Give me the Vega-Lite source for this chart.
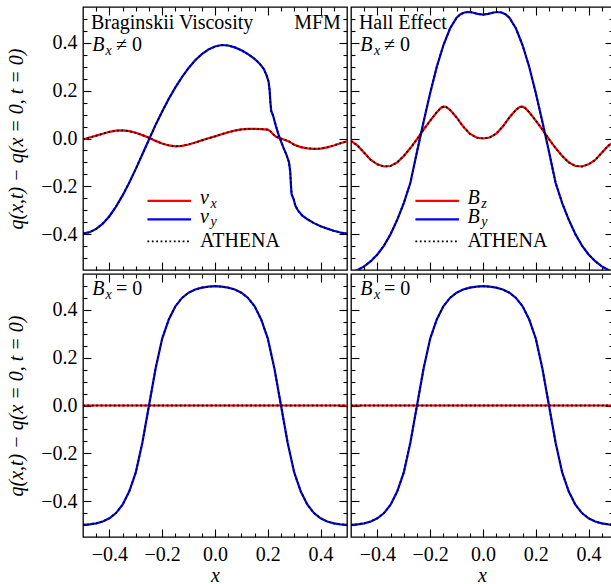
{
"$schema": "https://vega.github.io/schema/vega-lite/v6.json",
"padding": {"left": 6, "top": 5, "right": 0, "bottom": 0},
"background": "white",
"datasets": {
"curves": [
{"p":"A","s":"vx","x":-0.5,"y":-0.004},{"p":"A","s":"vx","x":-0.475,"y":0.004},{"p":"A","s":"vx","x":-0.45,"y":0.012},{"p":"A","s":"vx","x":-0.425,"y":0.02},{"p":"A","s":"vx","x":-0.4,"y":0.028},{"p":"A","s":"vx","x":-0.375,"y":0.033},{"p":"A","s":"vx","x":-0.35,"y":0.034},{"p":"A","s":"vx","x":-0.325,"y":0.031},{"p":"A","s":"vx","x":-0.3,"y":0.024},{"p":"A","s":"vx","x":-0.275,"y":0.014},{"p":"A","s":"vx","x":-0.25,"y":0.003},{"p":"A","s":"vx","x":-0.225,"y":-0.01},{"p":"A","s":"vx","x":-0.2,"y":-0.021},{"p":"A","s":"vx","x":-0.175,"y":-0.029},{"p":"A","s":"vx","x":-0.15,"y":-0.033},{"p":"A","s":"vx","x":-0.125,"y":-0.031},{"p":"A","s":"vx","x":-0.1,"y":-0.025},{"p":"A","s":"vx","x":-0.075,"y":-0.017},{"p":"A","s":"vx","x":-0.05,"y":-0.008},{"p":"A","s":"vx","x":-0.025,"y":0.001},{"p":"A","s":"vx","x":0,"y":0.009},{"p":"A","s":"vx","x":0.025,"y":0.018},{"p":"A","s":"vx","x":0.05,"y":0.026},{"p":"A","s":"vx","x":0.075,"y":0.033},{"p":"A","s":"vx","x":0.1,"y":0.038},{"p":"A","s":"vx","x":0.125,"y":0.04},{"p":"A","s":"vx","x":0.15,"y":0.04},{"p":"A","s":"vx","x":0.175,"y":0.039},{"p":"A","s":"vx","x":0.2,"y":0.037},{"p":"A","s":"vx","x":0.21,"y":0.03},{"p":"A","s":"vx","x":0.22,"y":0.018},{"p":"A","s":"vx","x":0.23,"y":0.008},{"p":"A","s":"vx","x":0.24,"y":0.003},{"p":"A","s":"vx","x":0.25,"y":0.0},{"p":"A","s":"vx","x":0.265,"y":-0.006},{"p":"A","s":"vx","x":0.28,"y":-0.012},{"p":"A","s":"vx","x":0.3,"y":-0.026},{"p":"A","s":"vx","x":0.325,"y":-0.036},{"p":"A","s":"vx","x":0.35,"y":-0.041},{"p":"A","s":"vx","x":0.375,"y":-0.043},{"p":"A","s":"vx","x":0.4,"y":-0.042},{"p":"A","s":"vx","x":0.425,"y":-0.037},{"p":"A","s":"vx","x":0.45,"y":-0.029},{"p":"A","s":"vx","x":0.475,"y":-0.02},{"p":"A","s":"vx","x":0.5,"y":-0.012},
{"p":"A","s":"vy","x":-0.5,"y":-0.397},{"p":"A","s":"vy","x":-0.475,"y":-0.392},{"p":"A","s":"vy","x":-0.45,"y":-0.378},{"p":"A","s":"vy","x":-0.425,"y":-0.356},{"p":"A","s":"vy","x":-0.4,"y":-0.325},{"p":"A","s":"vy","x":-0.375,"y":-0.285},{"p":"A","s":"vy","x":-0.35,"y":-0.238},{"p":"A","s":"vy","x":-0.325,"y":-0.185},{"p":"A","s":"vy","x":-0.3,"y":-0.127},{"p":"A","s":"vy","x":-0.275,"y":-0.066},{"p":"A","s":"vy","x":-0.25,"y":-0.004},{"p":"A","s":"vy","x":-0.225,"y":0.057},{"p":"A","s":"vy","x":-0.2,"y":0.113},{"p":"A","s":"vy","x":-0.175,"y":0.166},{"p":"A","s":"vy","x":-0.15,"y":0.214},{"p":"A","s":"vy","x":-0.125,"y":0.257},{"p":"A","s":"vy","x":-0.1,"y":0.295},{"p":"A","s":"vy","x":-0.075,"y":0.327},{"p":"A","s":"vy","x":-0.05,"y":0.353},{"p":"A","s":"vy","x":-0.025,"y":0.372},{"p":"A","s":"vy","x":0,"y":0.385},{"p":"A","s":"vy","x":0.025,"y":0.391},{"p":"A","s":"vy","x":0.05,"y":0.389},{"p":"A","s":"vy","x":0.075,"y":0.381},{"p":"A","s":"vy","x":0.1,"y":0.369},{"p":"A","s":"vy","x":0.125,"y":0.353},{"p":"A","s":"vy","x":0.15,"y":0.333},{"p":"A","s":"vy","x":0.17,"y":0.312},{"p":"A","s":"vy","x":0.185,"y":0.29},{"p":"A","s":"vy","x":0.195,"y":0.265},{"p":"A","s":"vy","x":0.203,"y":0.238},{"p":"A","s":"vy","x":0.207,"y":0.2},{"p":"A","s":"vy","x":0.21,"y":0.15},{"p":"A","s":"vy","x":0.213,"y":0.115},{"p":"A","s":"vy","x":0.22,"y":0.096},{"p":"A","s":"vy","x":0.23,"y":0.055},{"p":"A","s":"vy","x":0.24,"y":0.018},{"p":"A","s":"vy","x":0.25,"y":-0.012},{"p":"A","s":"vy","x":0.26,"y":-0.04},{"p":"A","s":"vy","x":0.27,"y":-0.066},{"p":"A","s":"vy","x":0.28,"y":-0.098},{"p":"A","s":"vy","x":0.285,"y":-0.14},{"p":"A","s":"vy","x":0.288,"y":-0.2},{"p":"A","s":"vy","x":0.29,"y":-0.232},{"p":"A","s":"vy","x":0.298,"y":-0.254},{"p":"A","s":"vy","x":0.305,"y":-0.283},{"p":"A","s":"vy","x":0.315,"y":-0.302},{"p":"A","s":"vy","x":0.33,"y":-0.322},{"p":"A","s":"vy","x":0.35,"y":-0.338},{"p":"A","s":"vy","x":0.375,"y":-0.354},{"p":"A","s":"vy","x":0.4,"y":-0.367},{"p":"A","s":"vy","x":0.425,"y":-0.377},{"p":"A","s":"vy","x":0.45,"y":-0.386},{"p":"A","s":"vy","x":0.475,"y":-0.393},{"p":"A","s":"vy","x":0.5,"y":-0.398},
{"p":"B","s":"Bz","x":-0.5,"y":-0.01},{"p":"B","s":"Bz","x":-0.475,"y":-0.03},{"p":"B","s":"Bz","x":-0.45,"y":-0.06},{"p":"B","s":"Bz","x":-0.425,"y":-0.09},{"p":"B","s":"Bz","x":-0.4,"y":-0.108},{"p":"B","s":"Bz","x":-0.375,"y":-0.117},{"p":"B","s":"Bz","x":-0.35,"y":-0.115},{"p":"B","s":"Bz","x":-0.325,"y":-0.1},{"p":"B","s":"Bz","x":-0.3,"y":-0.073},{"p":"B","s":"Bz","x":-0.275,"y":-0.04},{"p":"B","s":"Bz","x":-0.25,"y":-0.003},{"p":"B","s":"Bz","x":-0.225,"y":0.037},{"p":"B","s":"Bz","x":-0.2,"y":0.075},{"p":"B","s":"Bz","x":-0.175,"y":0.11},{"p":"B","s":"Bz","x":-0.16,"y":0.128},{"p":"B","s":"Bz","x":-0.15,"y":0.133},{"p":"B","s":"Bz","x":-0.14,"y":0.132},{"p":"B","s":"Bz","x":-0.125,"y":0.12},{"p":"B","s":"Bz","x":-0.1,"y":0.088},{"p":"B","s":"Bz","x":-0.075,"y":0.05},{"p":"B","s":"Bz","x":-0.05,"y":0.02},{"p":"B","s":"Bz","x":-0.025,"y":0.004},{"p":"B","s":"Bz","x":0,"y":0.0},{"p":"B","s":"Bz","x":0.025,"y":0.004},{"p":"B","s":"Bz","x":0.05,"y":0.02},{"p":"B","s":"Bz","x":0.075,"y":0.05},{"p":"B","s":"Bz","x":0.1,"y":0.088},{"p":"B","s":"Bz","x":0.125,"y":0.12},{"p":"B","s":"Bz","x":0.14,"y":0.132},{"p":"B","s":"Bz","x":0.15,"y":0.133},{"p":"B","s":"Bz","x":0.16,"y":0.128},{"p":"B","s":"Bz","x":0.175,"y":0.11},{"p":"B","s":"Bz","x":0.2,"y":0.075},{"p":"B","s":"Bz","x":0.225,"y":0.037},{"p":"B","s":"Bz","x":0.25,"y":-0.003},{"p":"B","s":"Bz","x":0.275,"y":-0.04},{"p":"B","s":"Bz","x":0.3,"y":-0.073},{"p":"B","s":"Bz","x":0.325,"y":-0.1},{"p":"B","s":"Bz","x":0.35,"y":-0.115},{"p":"B","s":"Bz","x":0.375,"y":-0.117},{"p":"B","s":"Bz","x":0.4,"y":-0.108},{"p":"B","s":"Bz","x":0.425,"y":-0.09},{"p":"B","s":"Bz","x":0.45,"y":-0.06},{"p":"B","s":"Bz","x":0.475,"y":-0.03},{"p":"B","s":"Bz","x":0.5,"y":-0.01},
{"p":"B","s":"By","x":-0.5,"y":-0.56},{"p":"B","s":"By","x":-0.475,"y":-0.55},{"p":"B","s":"By","x":-0.45,"y":-0.535},{"p":"B","s":"By","x":-0.425,"y":-0.513},{"p":"B","s":"By","x":-0.4,"y":-0.485},{"p":"B","s":"By","x":-0.375,"y":-0.448},{"p":"B","s":"By","x":-0.35,"y":-0.4},{"p":"B","s":"By","x":-0.325,"y":-0.34},{"p":"B","s":"By","x":-0.3,"y":-0.27},{"p":"B","s":"By","x":-0.275,"y":-0.185},{"p":"B","s":"By","x":-0.25,"y":-0.055},{"p":"B","s":"By","x":-0.225,"y":0.07},{"p":"B","s":"By","x":-0.2,"y":0.19},{"p":"B","s":"By","x":-0.175,"y":0.3},{"p":"B","s":"By","x":-0.15,"y":0.39},{"p":"B","s":"By","x":-0.125,"y":0.46},{"p":"B","s":"By","x":-0.1,"y":0.505},{"p":"B","s":"By","x":-0.085,"y":0.52},{"p":"B","s":"By","x":-0.07,"y":0.527},{"p":"B","s":"By","x":-0.055,"y":0.529},{"p":"B","s":"By","x":-0.04,"y":0.527},{"p":"B","s":"By","x":-0.02,"y":0.521},{"p":"B","s":"By","x":0,"y":0.518},{"p":"B","s":"By","x":0.02,"y":0.521},{"p":"B","s":"By","x":0.04,"y":0.527},{"p":"B","s":"By","x":0.055,"y":0.529},{"p":"B","s":"By","x":0.07,"y":0.527},{"p":"B","s":"By","x":0.085,"y":0.52},{"p":"B","s":"By","x":0.1,"y":0.505},{"p":"B","s":"By","x":0.125,"y":0.46},{"p":"B","s":"By","x":0.15,"y":0.39},{"p":"B","s":"By","x":0.175,"y":0.3},{"p":"B","s":"By","x":0.2,"y":0.19},{"p":"B","s":"By","x":0.225,"y":0.07},{"p":"B","s":"By","x":0.25,"y":-0.055},{"p":"B","s":"By","x":0.275,"y":-0.185},{"p":"B","s":"By","x":0.3,"y":-0.27},{"p":"B","s":"By","x":0.325,"y":-0.34},{"p":"B","s":"By","x":0.35,"y":-0.4},{"p":"B","s":"By","x":0.375,"y":-0.448},{"p":"B","s":"By","x":0.4,"y":-0.485},{"p":"B","s":"By","x":0.425,"y":-0.513},{"p":"B","s":"By","x":0.45,"y":-0.535},{"p":"B","s":"By","x":0.475,"y":-0.55},{"p":"B","s":"By","x":0.5,"y":-0.56},
{"p":"C","s":"r","x":-0.5,"y":0},{"p":"C","s":"r","x":-0.25,"y":0},{"p":"C","s":"r","x":0,"y":0},{"p":"C","s":"r","x":0.25,"y":0},{"p":"C","s":"r","x":0.5,"y":0},
{"p":"C","s":"b","x":-0.5,"y":-0.499},{"p":"C","s":"b","x":-0.475,"y":-0.497},{"p":"C","s":"b","x":-0.45,"y":-0.493},{"p":"C","s":"b","x":-0.425,"y":-0.485},{"p":"C","s":"b","x":-0.4,"y":-0.472},{"p":"C","s":"b","x":-0.375,"y":-0.45},{"p":"C","s":"b","x":-0.35,"y":-0.415},{"p":"C","s":"b","x":-0.325,"y":-0.36},{"p":"C","s":"b","x":-0.3,"y":-0.28},{"p":"C","s":"b","x":-0.275,"y":-0.155},{"p":"C","s":"b","x":-0.25,"y":0.0},{"p":"C","s":"b","x":-0.225,"y":0.155},{"p":"C","s":"b","x":-0.2,"y":0.28},{"p":"C","s":"b","x":-0.175,"y":0.36},{"p":"C","s":"b","x":-0.15,"y":0.415},{"p":"C","s":"b","x":-0.125,"y":0.45},{"p":"C","s":"b","x":-0.1,"y":0.472},{"p":"C","s":"b","x":-0.075,"y":0.485},{"p":"C","s":"b","x":-0.05,"y":0.493},{"p":"C","s":"b","x":-0.025,"y":0.497},{"p":"C","s":"b","x":0,"y":0.499},{"p":"C","s":"b","x":0.025,"y":0.497},{"p":"C","s":"b","x":0.05,"y":0.493},{"p":"C","s":"b","x":0.075,"y":0.485},{"p":"C","s":"b","x":0.1,"y":0.472},{"p":"C","s":"b","x":0.125,"y":0.45},{"p":"C","s":"b","x":0.15,"y":0.415},{"p":"C","s":"b","x":0.175,"y":0.36},{"p":"C","s":"b","x":0.2,"y":0.28},{"p":"C","s":"b","x":0.225,"y":0.155},{"p":"C","s":"b","x":0.25,"y":0.0},{"p":"C","s":"b","x":0.275,"y":-0.155},{"p":"C","s":"b","x":0.3,"y":-0.28},{"p":"C","s":"b","x":0.325,"y":-0.36},{"p":"C","s":"b","x":0.35,"y":-0.415},{"p":"C","s":"b","x":0.375,"y":-0.45},{"p":"C","s":"b","x":0.4,"y":-0.472},{"p":"C","s":"b","x":0.425,"y":-0.485},{"p":"C","s":"b","x":0.45,"y":-0.493},{"p":"C","s":"b","x":0.475,"y":-0.497},{"p":"C","s":"b","x":0.5,"y":-0.499},
{"p":"D","s":"r","x":-0.5,"y":0},{"p":"D","s":"r","x":-0.25,"y":0},{"p":"D","s":"r","x":0,"y":0},{"p":"D","s":"r","x":0.25,"y":0},{"p":"D","s":"r","x":0.5,"y":0},
{"p":"D","s":"b","x":-0.5,"y":-0.499},{"p":"D","s":"b","x":-0.475,"y":-0.497},{"p":"D","s":"b","x":-0.45,"y":-0.493},{"p":"D","s":"b","x":-0.425,"y":-0.485},{"p":"D","s":"b","x":-0.4,"y":-0.472},{"p":"D","s":"b","x":-0.375,"y":-0.45},{"p":"D","s":"b","x":-0.35,"y":-0.415},{"p":"D","s":"b","x":-0.325,"y":-0.36},{"p":"D","s":"b","x":-0.3,"y":-0.28},{"p":"D","s":"b","x":-0.275,"y":-0.155},{"p":"D","s":"b","x":-0.25,"y":0.0},{"p":"D","s":"b","x":-0.225,"y":0.155},{"p":"D","s":"b","x":-0.2,"y":0.28},{"p":"D","s":"b","x":-0.175,"y":0.36},{"p":"D","s":"b","x":-0.15,"y":0.415},{"p":"D","s":"b","x":-0.125,"y":0.45},{"p":"D","s":"b","x":-0.1,"y":0.472},{"p":"D","s":"b","x":-0.075,"y":0.485},{"p":"D","s":"b","x":-0.05,"y":0.493},{"p":"D","s":"b","x":-0.025,"y":0.497},{"p":"D","s":"b","x":0,"y":0.499},{"p":"D","s":"b","x":0.025,"y":0.497},{"p":"D","s":"b","x":0.05,"y":0.493},{"p":"D","s":"b","x":0.075,"y":0.485},{"p":"D","s":"b","x":0.1,"y":0.472},{"p":"D","s":"b","x":0.125,"y":0.45},{"p":"D","s":"b","x":0.15,"y":0.415},{"p":"D","s":"b","x":0.175,"y":0.36},{"p":"D","s":"b","x":0.2,"y":0.28},{"p":"D","s":"b","x":0.225,"y":0.155},{"p":"D","s":"b","x":0.25,"y":0.0},{"p":"D","s":"b","x":0.275,"y":-0.155},{"p":"D","s":"b","x":0.3,"y":-0.28},{"p":"D","s":"b","x":0.325,"y":-0.36},{"p":"D","s":"b","x":0.35,"y":-0.415},{"p":"D","s":"b","x":0.375,"y":-0.45},{"p":"D","s":"b","x":0.4,"y":-0.472},{"p":"D","s":"b","x":0.425,"y":-0.485},{"p":"D","s":"b","x":0.45,"y":-0.493},{"p":"D","s":"b","x":0.475,"y":-0.497},{"p":"D","s":"b","x":0.5,"y":-0.499}
],
"legend": [
{"p":"A","s":"vx","x":-0.256,"x2":-0.091,"y":-0.261},
{"p":"A","s":"vy","x":-0.256,"x2":-0.091,"y":-0.338},
{"p":"A","s":"ATHENA","x":-0.256,"x2":-0.091,"y":-0.43},
{"p":"B","s":"Bz","x":-0.256,"x2":-0.091,"y":-0.261},
{"p":"B","s":"By","x":-0.256,"x2":-0.091,"y":-0.338},
{"p":"B","s":"ATHENA","x":-0.256,"x2":-0.091,"y":-0.43}
],
"notes": [
{"p":"A","k":"up","t":"Braginskii Viscosity","x":-0.47,"y":0.46},
{"p":"A","k":"up","t":"MFM","x":0.3,"y":0.46},
{"p":"A","k":"up","t":"≠ 0","x":-0.375,"y":0.368},
{"p":"A","k":"up","t":"ATHENA","x":-0.057,"y":-0.452},
{"p":"A","k":"it","t":"B","x":-0.465,"y":0.368},
{"p":"A","k":"it","t":"v","x":-0.057,"y":-0.275},
{"p":"A","k":"it","t":"v","x":-0.057,"y":-0.352},
{"p":"A","k":"sub","t":"x","x":-0.415,"y":0.35},
{"p":"A","k":"sub","t":"x","x":-0.017,"y":-0.29},
{"p":"A","k":"sub","t":"y","x":-0.017,"y":-0.367},
{"p":"B","k":"up","t":"Hall Effect","x":-0.47,"y":0.46},
{"p":"B","k":"up","t":"≠ 0","x":-0.375,"y":0.368},
{"p":"B","k":"up","t":"ATHENA","x":-0.059,"y":-0.452},
{"p":"B","k":"it","t":"B","x":-0.465,"y":0.368},
{"p":"B","k":"it","t":"B","x":-0.059,"y":-0.275},
{"p":"B","k":"it","t":"B","x":-0.059,"y":-0.352},
{"p":"B","k":"sub","t":"x","x":-0.413,"y":0.35},
{"p":"B","k":"sub","t":"z","x":-0.007,"y":-0.29},
{"p":"B","k":"sub","t":"y","x":-0.007,"y":-0.367},
{"p":"C","k":"it","t":"B","x":-0.465,"y":0.463},
{"p":"C","k":"sub","t":"x","x":-0.415,"y":0.446},
{"p":"C","k":"up","t":"= 0","x":-0.375,"y":0.463},
{"p":"D","k":"it","t":"B","x":-0.465,"y":0.463},
{"p":"D","k":"sub","t":"x","x":-0.413,"y":0.446},
{"p":"D","k":"up","t":"= 0","x":-0.375,"y":0.463}
]
},
"vconcat": [
{"hconcat": [
{"width": 264, "height": 263,
 "resolve": {"axis": {"x": "independent", "y": "independent"}},
 "layer": [
  {"data": {"name": "curves"}, "transform": [{"filter": "datum.p == 'A'"}],
   "mark": {"type": "line", "strokeWidth": 2.2, "clip": true},
   "encoding": {
    "x": {"field": "x", "type": "quantitative", "scale": {"domain": [-0.5, 0.5]}, "axis": {"orient": "bottom", "values": [-0.4,-0.2,0,0.2,0.4], "tickSize": -8, "labels": false, "title": null}},
    "y": {"field": "y", "type": "quantitative", "scale": {"domain": [-0.55, 0.55]}, "axis": {"orient": "left", "values": [-0.4,-0.2,0,0.2,0.4], "tickSize": -8, "labelPadding": 14, "format": ".1f", "title": "q(x,t) − q(x = 0, t = 0)"}},
    "color": {"field": "s", "type": "nominal", "scale": {"domain": ["vx","vy","Bz","By","r","b"], "range": ["#ff0000","#0000ff","#ff0000","#0000ff","#ff0000","#0000ff"]}, "legend": null}
   }},
  {"data": {"name": "curves"}, "transform": [{"filter": "datum.p == 'A'"}],
   "mark": {"type": "line", "color": "black", "strokeWidth": 1.8, "strokeDash": [1.8, 2.6], "clip": true},
   "encoding": {
    "x": {"field": "x", "type": "quantitative", "scale": {"domain": [-0.5, 0.5]}, "axis": {"orient": "bottom", "values": [-0.45,-0.35,-0.3,-0.25,-0.15,-0.1,-0.05,0.05,0.1,0.15,0.25,0.3,0.35,0.45], "tickSize": -4, "labels": false, "title": null}},
    "y": {"field": "y", "type": "quantitative", "scale": {"domain": [-0.55, 0.55]}, "axis": {"orient": "left", "values": [-0.5,-0.45,-0.35,-0.3,-0.25,-0.15,-0.1,-0.05,0.05,0.1,0.15,0.25,0.3,0.35,0.45,0.5], "tickSize": -4, "labels": false, "title": null}},
    "detail": {"field": "s", "type": "nominal"}
   }},
  {"data": {"name": "legend"}, "transform": [{"filter": "datum.p == 'A' && datum.s != 'ATHENA'"}],
   "mark": {"type": "rule", "strokeWidth": 2.2},
   "encoding": {
    "x": {"field": "x", "type": "quantitative", "scale": {"domain": [-0.5, 0.5]}, "axis": {"orient": "top", "values": [-0.4,-0.2,0,0.2,0.4], "tickSize": -8, "labels": false, "title": null}},
    "x2": {"field": "x2"},
    "y": {"field": "y", "type": "quantitative", "scale": {"domain": [-0.55, 0.55]}, "axis": {"orient": "right", "values": [-0.4,-0.2,0,0.2,0.4], "tickSize": -8, "labels": false, "title": null}},
    "color": {"field": "s", "type": "nominal", "scale": {"domain": ["vx","vy","Bz","By","r","b"], "range": ["#ff0000","#0000ff","#ff0000","#0000ff","#ff0000","#0000ff"]}, "legend": null}
   }},
  {"data": {"name": "legend"}, "transform": [{"filter": "datum.p == 'A' && datum.s == 'ATHENA'"}],
   "mark": {"type": "rule", "strokeWidth": 1.8, "color": "black", "strokeDash": [1.8, 2.6]},
   "encoding": {
    "x": {"field": "x", "type": "quantitative", "scale": {"domain": [-0.5, 0.5]}, "axis": {"orient": "top", "values": [-0.45,-0.35,-0.3,-0.25,-0.15,-0.1,-0.05,0.05,0.1,0.15,0.25,0.3,0.35,0.45], "tickSize": -4, "labels": false, "title": null}},
    "x2": {"field": "x2"},
    "y": {"field": "y", "type": "quantitative", "scale": {"domain": [-0.55, 0.55]}, "axis": {"orient": "right", "values": [-0.5,-0.45,-0.35,-0.3,-0.25,-0.15,-0.1,-0.05,0.05,0.1,0.15,0.25,0.3,0.35,0.45,0.5], "tickSize": -4, "labels": false, "title": null}}
   }},
  {"data": {"name": "notes"}, "transform": [{"filter": "datum.p == 'A' && datum.k == 'up'"}],
   "mark": {"type": "text", "align": "left", "baseline": "alphabetic", "font": "Liberation Serif, Times New Roman, DejaVu Serif, serif", "fontSize": 20, "color": "black"},
   "encoding": {"x": {"field": "x", "type": "quantitative", "scale": {"domain": [-0.5, 0.5]}, "axis": null}, "y": {"field": "y", "type": "quantitative", "scale": {"domain": [-0.55, 0.55]}, "axis": null}, "text": {"field": "t"}}},
  {"data": {"name": "notes"}, "transform": [{"filter": "datum.p == 'A' && datum.k == 'it'"}],
   "mark": {"type": "text", "align": "left", "baseline": "alphabetic", "font": "Liberation Serif, Times New Roman, DejaVu Serif, serif", "fontStyle": "italic", "fontSize": 20, "color": "black"},
   "encoding": {"x": {"field": "x", "type": "quantitative", "scale": {"domain": [-0.5, 0.5]}, "axis": null}, "y": {"field": "y", "type": "quantitative", "scale": {"domain": [-0.55, 0.55]}, "axis": null}, "text": {"field": "t"}}},
  {"data": {"name": "notes"}, "transform": [{"filter": "datum.p == 'A' && datum.k == 'sub'"}],
   "mark": {"type": "text", "align": "left", "baseline": "alphabetic", "font": "Liberation Serif, Times New Roman, DejaVu Serif, serif", "fontStyle": "italic", "fontSize": 14, "color": "black"},
   "encoding": {"x": {"field": "x", "type": "quantitative", "scale": {"domain": [-0.5, 0.5]}, "axis": null}, "y": {"field": "y", "type": "quantitative", "scale": {"domain": [-0.55, 0.55]}, "axis": null}, "text": {"field": "t"}}}
 ]},
{"width": 262, "height": 263,
 "resolve": {"axis": {"x": "independent", "y": "independent"}},
 "layer": [
  {"data": {"name": "curves"}, "transform": [{"filter": "datum.p == 'B'"}],
   "mark": {"type": "line", "strokeWidth": 2.2, "clip": true},
   "encoding": {
    "x": {"field": "x", "type": "quantitative", "scale": {"domain": [-0.5, 0.4925]}, "axis": {"orient": "bottom", "values": [-0.4,-0.2,0,0.2,0.4], "tickSize": -8, "labels": false, "title": null}},
    "y": {"field": "y", "type": "quantitative", "scale": {"domain": [-0.55, 0.55]}, "axis": {"orient": "left", "values": [-0.4,-0.2,0,0.2,0.4], "tickSize": -8, "labels": false, "title": null}},
    "color": {"field": "s", "type": "nominal", "scale": {"domain": ["vx","vy","Bz","By","r","b"], "range": ["#ff0000","#0000ff","#ff0000","#0000ff","#ff0000","#0000ff"]}, "legend": null}
   }},
  {"data": {"name": "curves"}, "transform": [{"filter": "datum.p == 'B'"}],
   "mark": {"type": "line", "color": "black", "strokeWidth": 1.8, "strokeDash": [1.8, 2.6], "clip": true},
   "encoding": {
    "x": {"field": "x", "type": "quantitative", "scale": {"domain": [-0.5, 0.4925]}, "axis": {"orient": "bottom", "values": [-0.45,-0.35,-0.3,-0.25,-0.15,-0.1,-0.05,0.05,0.1,0.15,0.25,0.3,0.35,0.45], "tickSize": -4, "labels": false, "title": null}},
    "y": {"field": "y", "type": "quantitative", "scale": {"domain": [-0.55, 0.55]}, "axis": {"orient": "left", "values": [-0.5,-0.45,-0.35,-0.3,-0.25,-0.15,-0.1,-0.05,0.05,0.1,0.15,0.25,0.3,0.35,0.45,0.5], "tickSize": -4, "labels": false, "title": null}},
    "detail": {"field": "s", "type": "nominal"}
   }},
  {"data": {"name": "legend"}, "transform": [{"filter": "datum.p == 'B' && datum.s != 'ATHENA'"}],
   "mark": {"type": "rule", "strokeWidth": 2.2},
   "encoding": {
    "x": {"field": "x", "type": "quantitative", "scale": {"domain": [-0.5, 0.4925]}, "axis": {"orient": "top", "values": [-0.4,-0.2,0,0.2,0.4], "tickSize": -8, "labels": false, "title": null}},
    "x2": {"field": "x2"},
    "y": {"field": "y", "type": "quantitative", "scale": {"domain": [-0.55, 0.55]}, "axis": {"orient": "right", "values": [-0.4,-0.2,0,0.2,0.4], "tickSize": -8, "labels": false, "title": null}},
    "color": {"field": "s", "type": "nominal", "scale": {"domain": ["vx","vy","Bz","By","r","b"], "range": ["#ff0000","#0000ff","#ff0000","#0000ff","#ff0000","#0000ff"]}, "legend": null}
   }},
  {"data": {"name": "legend"}, "transform": [{"filter": "datum.p == 'B' && datum.s == 'ATHENA'"}],
   "mark": {"type": "rule", "strokeWidth": 1.8, "color": "black", "strokeDash": [1.8, 2.6]},
   "encoding": {
    "x": {"field": "x", "type": "quantitative", "scale": {"domain": [-0.5, 0.4925]}, "axis": {"orient": "top", "values": [-0.45,-0.35,-0.3,-0.25,-0.15,-0.1,-0.05,0.05,0.1,0.15,0.25,0.3,0.35,0.45], "tickSize": -4, "labels": false, "title": null}},
    "x2": {"field": "x2"},
    "y": {"field": "y", "type": "quantitative", "scale": {"domain": [-0.55, 0.55]}, "axis": {"orient": "right", "values": [-0.5,-0.45,-0.35,-0.3,-0.25,-0.15,-0.1,-0.05,0.05,0.1,0.15,0.25,0.3,0.35,0.45,0.5], "tickSize": -4, "labels": false, "title": null}}
   }},
  {"data": {"name": "notes"}, "transform": [{"filter": "datum.p == 'B' && datum.k == 'up'"}],
   "mark": {"type": "text", "align": "left", "baseline": "alphabetic", "font": "Liberation Serif, Times New Roman, DejaVu Serif, serif", "fontSize": 20, "color": "black"},
   "encoding": {"x": {"field": "x", "type": "quantitative", "scale": {"domain": [-0.5, 0.4925]}, "axis": null}, "y": {"field": "y", "type": "quantitative", "scale": {"domain": [-0.55, 0.55]}, "axis": null}, "text": {"field": "t"}}},
  {"data": {"name": "notes"}, "transform": [{"filter": "datum.p == 'B' && datum.k == 'it'"}],
   "mark": {"type": "text", "align": "left", "baseline": "alphabetic", "font": "Liberation Serif, Times New Roman, DejaVu Serif, serif", "fontStyle": "italic", "fontSize": 20, "color": "black"},
   "encoding": {"x": {"field": "x", "type": "quantitative", "scale": {"domain": [-0.5, 0.4925]}, "axis": null}, "y": {"field": "y", "type": "quantitative", "scale": {"domain": [-0.55, 0.55]}, "axis": null}, "text": {"field": "t"}}},
  {"data": {"name": "notes"}, "transform": [{"filter": "datum.p == 'B' && datum.k == 'sub'"}],
   "mark": {"type": "text", "align": "left", "baseline": "alphabetic", "font": "Liberation Serif, Times New Roman, DejaVu Serif, serif", "fontStyle": "italic", "fontSize": 14, "color": "black"},
   "encoding": {"x": {"field": "x", "type": "quantitative", "scale": {"domain": [-0.5, 0.4925]}, "axis": null}, "y": {"field": "y", "type": "quantitative", "scale": {"domain": [-0.55, 0.55]}, "axis": null}, "text": {"field": "t"}}}
 ]}
], "spacing": 0},
{"hconcat": [
{"width": 264, "height": 263,
 "resolve": {"axis": {"x": "independent", "y": "independent"}},
 "layer": [
  {"data": {"name": "curves"}, "transform": [{"filter": "datum.p == 'C'"}],
   "mark": {"type": "line", "strokeWidth": 2.2, "clip": true},
   "encoding": {
    "x": {"field": "x", "type": "quantitative", "scale": {"domain": [-0.5, 0.5]}, "axis": {"orient": "bottom", "values": [-0.4,-0.2,0,0.2,0.4], "tickSize": -8, "labelPadding": 15, "format": ".1f", "title": "x"}},
    "y": {"field": "y", "type": "quantitative", "scale": {"domain": [-0.55, 0.55]}, "axis": {"orient": "left", "values": [-0.4,-0.2,0,0.2,0.4], "tickSize": -8, "labelPadding": 14, "format": ".1f", "title": "q(x,t) − q(x = 0, t = 0)"}},
    "color": {"field": "s", "type": "nominal", "scale": {"domain": ["vx","vy","Bz","By","r","b"], "range": ["#ff0000","#0000ff","#ff0000","#0000ff","#ff0000","#0000ff"]}, "legend": null}
   }},
  {"data": {"name": "curves"}, "transform": [{"filter": "datum.p == 'C'"}],
   "mark": {"type": "line", "color": "black", "strokeWidth": 1.8, "strokeDash": [1.8, 2.6], "clip": true},
   "encoding": {
    "x": {"field": "x", "type": "quantitative", "scale": {"domain": [-0.5, 0.5]}, "axis": {"orient": "bottom", "values": [-0.45,-0.35,-0.3,-0.25,-0.15,-0.1,-0.05,0.05,0.1,0.15,0.25,0.3,0.35,0.45], "tickSize": -4, "labels": false, "title": null}},
    "y": {"field": "y", "type": "quantitative", "scale": {"domain": [-0.55, 0.55]}, "axis": {"orient": "left", "values": [-0.5,-0.45,-0.35,-0.3,-0.25,-0.15,-0.1,-0.05,0.05,0.1,0.15,0.25,0.3,0.35,0.45,0.5], "tickSize": -4, "labels": false, "title": null}},
    "detail": {"field": "s", "type": "nominal"}
   }},
  {"data": {"name": "notes"}, "transform": [{"filter": "datum.p == 'C' && datum.k == 'up'"}],
   "mark": {"type": "text", "align": "left", "baseline": "alphabetic", "font": "Liberation Serif, Times New Roman, DejaVu Serif, serif", "fontSize": 20, "color": "black"},
   "encoding": {"x": {"field": "x", "type": "quantitative", "scale": {"domain": [-0.5, 0.5]}, "axis": {"orient": "top", "values": [-0.4,-0.2,0,0.2,0.4], "tickSize": -8, "labels": false, "title": null}}, "y": {"field": "y", "type": "quantitative", "scale": {"domain": [-0.55, 0.55]}, "axis": {"orient": "right", "values": [-0.4,-0.2,0,0.2,0.4], "tickSize": -8, "labels": false, "title": null}}, "text": {"field": "t"}}},
  {"data": {"name": "notes"}, "transform": [{"filter": "datum.p == 'C' && datum.k == 'it'"}],
   "mark": {"type": "text", "align": "left", "baseline": "alphabetic", "font": "Liberation Serif, Times New Roman, DejaVu Serif, serif", "fontStyle": "italic", "fontSize": 20, "color": "black"},
   "encoding": {"x": {"field": "x", "type": "quantitative", "scale": {"domain": [-0.5, 0.5]}, "axis": {"orient": "top", "values": [-0.45,-0.35,-0.3,-0.25,-0.15,-0.1,-0.05,0.05,0.1,0.15,0.25,0.3,0.35,0.45], "tickSize": -4, "labels": false, "title": null}}, "y": {"field": "y", "type": "quantitative", "scale": {"domain": [-0.55, 0.55]}, "axis": {"orient": "right", "values": [-0.5,-0.45,-0.35,-0.3,-0.25,-0.15,-0.1,-0.05,0.05,0.1,0.15,0.25,0.3,0.35,0.45,0.5], "tickSize": -4, "labels": false, "title": null}}, "text": {"field": "t"}}},
  {"data": {"name": "notes"}, "transform": [{"filter": "datum.p == 'C' && datum.k == 'sub'"}],
   "mark": {"type": "text", "align": "left", "baseline": "alphabetic", "font": "Liberation Serif, Times New Roman, DejaVu Serif, serif", "fontStyle": "italic", "fontSize": 14, "color": "black"},
   "encoding": {"x": {"field": "x", "type": "quantitative", "scale": {"domain": [-0.5, 0.5]}, "axis": null}, "y": {"field": "y", "type": "quantitative", "scale": {"domain": [-0.55, 0.55]}, "axis": null}, "text": {"field": "t"}}}
 ]},
{"width": 262, "height": 263,
 "resolve": {"axis": {"x": "independent", "y": "independent"}},
 "layer": [
  {"data": {"name": "curves"}, "transform": [{"filter": "datum.p == 'D'"}],
   "mark": {"type": "line", "strokeWidth": 2.2, "clip": true},
   "encoding": {
    "x": {"field": "x", "type": "quantitative", "scale": {"domain": [-0.5, 0.4925]}, "axis": {"orient": "bottom", "values": [-0.4,-0.2,0,0.2,0.4], "tickSize": -8, "labelPadding": 15, "format": ".1f", "title": "x"}},
    "y": {"field": "y", "type": "quantitative", "scale": {"domain": [-0.55, 0.55]}, "axis": {"orient": "left", "values": [-0.4,-0.2,0,0.2,0.4], "tickSize": -8, "labels": false, "title": null}},
    "color": {"field": "s", "type": "nominal", "scale": {"domain": ["vx","vy","Bz","By","r","b"], "range": ["#ff0000","#0000ff","#ff0000","#0000ff","#ff0000","#0000ff"]}, "legend": null}
   }},
  {"data": {"name": "curves"}, "transform": [{"filter": "datum.p == 'D'"}],
   "mark": {"type": "line", "color": "black", "strokeWidth": 1.8, "strokeDash": [1.8, 2.6], "clip": true},
   "encoding": {
    "x": {"field": "x", "type": "quantitative", "scale": {"domain": [-0.5, 0.4925]}, "axis": {"orient": "bottom", "values": [-0.45,-0.35,-0.3,-0.25,-0.15,-0.1,-0.05,0.05,0.1,0.15,0.25,0.3,0.35,0.45], "tickSize": -4, "labels": false, "title": null}},
    "y": {"field": "y", "type": "quantitative", "scale": {"domain": [-0.55, 0.55]}, "axis": {"orient": "left", "values": [-0.5,-0.45,-0.35,-0.3,-0.25,-0.15,-0.1,-0.05,0.05,0.1,0.15,0.25,0.3,0.35,0.45,0.5], "tickSize": -4, "labels": false, "title": null}},
    "detail": {"field": "s", "type": "nominal"}
   }},
  {"data": {"name": "notes"}, "transform": [{"filter": "datum.p == 'D' && datum.k == 'up'"}],
   "mark": {"type": "text", "align": "left", "baseline": "alphabetic", "font": "Liberation Serif, Times New Roman, DejaVu Serif, serif", "fontSize": 20, "color": "black"},
   "encoding": {"x": {"field": "x", "type": "quantitative", "scale": {"domain": [-0.5, 0.4925]}, "axis": {"orient": "top", "values": [-0.4,-0.2,0,0.2,0.4], "tickSize": -8, "labels": false, "title": null}}, "y": {"field": "y", "type": "quantitative", "scale": {"domain": [-0.55, 0.55]}, "axis": {"orient": "right", "values": [-0.4,-0.2,0,0.2,0.4], "tickSize": -8, "labels": false, "title": null}}, "text": {"field": "t"}}},
  {"data": {"name": "notes"}, "transform": [{"filter": "datum.p == 'D' && datum.k == 'it'"}],
   "mark": {"type": "text", "align": "left", "baseline": "alphabetic", "font": "Liberation Serif, Times New Roman, DejaVu Serif, serif", "fontStyle": "italic", "fontSize": 20, "color": "black"},
   "encoding": {"x": {"field": "x", "type": "quantitative", "scale": {"domain": [-0.5, 0.4925]}, "axis": {"orient": "top", "values": [-0.45,-0.35,-0.3,-0.25,-0.15,-0.1,-0.05,0.05,0.1,0.15,0.25,0.3,0.35,0.45], "tickSize": -4, "labels": false, "title": null}}, "y": {"field": "y", "type": "quantitative", "scale": {"domain": [-0.55, 0.55]}, "axis": {"orient": "right", "values": [-0.5,-0.45,-0.35,-0.3,-0.25,-0.15,-0.1,-0.05,0.05,0.1,0.15,0.25,0.3,0.35,0.45,0.5], "tickSize": -4, "labels": false, "title": null}}, "text": {"field": "t"}}},
  {"data": {"name": "notes"}, "transform": [{"filter": "datum.p == 'D' && datum.k == 'sub'"}],
   "mark": {"type": "text", "align": "left", "baseline": "alphabetic", "font": "Liberation Serif, Times New Roman, DejaVu Serif, serif", "fontStyle": "italic", "fontSize": 14, "color": "black"},
   "encoding": {"x": {"field": "x", "type": "quantitative", "scale": {"domain": [-0.5, 0.4925]}, "axis": null}, "y": {"field": "y", "type": "quantitative", "scale": {"domain": [-0.55, 0.55]}, "axis": null}, "text": {"field": "t"}}}
 ]}
], "spacing": 0}
],
"spacing": 0,
"config": {
 "view": {"stroke": "black", "strokeWidth": 1.3},
 "axis": {"grid": false, "domain": false, "tickColor": "black", "tickWidth": 1.1, "labelFont": "Liberation Serif, Times New Roman, DejaVu Serif, serif", "labelFontSize": 20, "labelColor": "black", "titleFont": "Liberation Serif, Times New Roman, DejaVu Serif, serif", "titleFontSize": 20, "titleFontStyle": "italic", "titleFontWeight": "normal", "titleColor": "black", "minExtent": 0, "labelFlush": false},
 "axisLeft": {"titlePadding": 14},
 "axisBottom": {"titlePadding": 1}
}
}
